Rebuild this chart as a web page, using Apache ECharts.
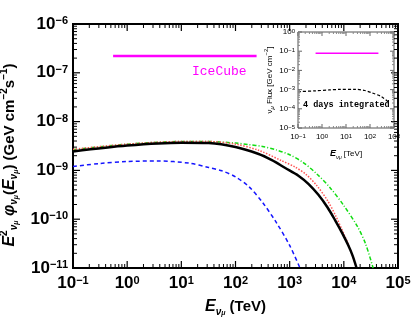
<!DOCTYPE html>
<html>
<head>
<meta charset="utf-8">
<script src="https://cdn.jsdelivr.net/npm/echarts@6/dist/echarts.min.js"></script>
<style>
html, body { margin: 0; padding: 0; background: #fff; }
#chart { width: 413px; height: 323px; }
</style>
</head>
<body>
<div id="chart"></div>
<script>
// main panel: E (TeV) vs E^2 phi (GeV cm^-2 s^-1)
var blackE = [0.1, 1, 10, 32, 100, 260, 470, 830, 1450, 2240, 3390, 5010, 6920, 9330, 12000, 14450, 17200];
var blackF = [2.45e-9, 3.24e-9, 3.7e-9, 3.63e-9, 3.02e-9, 2.19e-9, 1.62e-9, 1.12e-9, 7.8e-10, 5.25e-10, 3.16e-10, 1.74e-10, 9.5e-11, 5.2e-11, 2.95e-11, 1.82e-11, 1.0e-11];

var redE = [0.1, 1, 10, 32, 100, 270, 710, 1260, 2000, 3160, 5010, 7080, 10000, 13200, 17000];
var redF = [2.7e-9, 3.45e-9, 3.9e-9, 3.9e-9, 3.45e-9, 2.57e-9, 1.58e-9, 1.17e-9, 8.3e-10, 4.9e-10, 2.4e-10, 1.17e-10, 5.0e-11, 2.4e-11, 1.0e-11];

var greenE = [0.1, 1, 10, 32, 100, 174, 316, 562, 1000, 1780, 3160, 5620, 10000, 17800, 25100, 34700];
var greenF = [2.65e-9, 3.45e-9, 3.9e-9, 3.9e-9, 3.63e-9, 3.39e-9, 3.09e-9, 2.63e-9, 2.09e-9, 1.45e-9, 8.5e-10, 4.37e-10, 1.9e-10, 7.1e-11, 3.16e-11, 1.0e-11];

var blueE = [0.1, 0.3, 1, 3.8, 13.7, 32, 56, 100, 178, 316, 562, 1000, 1550];
var blueF = [1.2e-9, 1.38e-9, 1.52e-9, 1.56e-9, 1.41e-9, 1.15e-9, 9.8e-10, 7.4e-10, 4.6e-10, 2.2e-10, 8.7e-11, 2.9e-11, 1.0e-11];

var iceCubeE = [0.55, 245];
var iceCubeF = [2.2e-7, 2.2e-7];

// inset: 4 days integrated flux
var insetE = [0.1, 0.5, 2, 5, 25, 60, 117, 300, 570];
var insetF = [7.8e-4, 8.6e-4, 9.6e-4, 1.02e-3, 1.04e-3, 9.0e-4, 6.9e-4, 4.3e-4, 2.3e-4];
var insetIceE = [0.54, 224];
var insetIceF = [0.078, 0.078];

var xTicks = [0.1, 1, 10, 100, 1000, 10000, 100000];
var yTicks = [1e-11, 1e-10, 1e-9, 1e-8, 1e-7, 1e-6];
var insetXTicks = [0.1, 1, 10, 100, 1000];
var insetYTicks = [1e-5, 1e-4, 1e-3, 1e-2, 1e-1, 1];

var FONT = 'Liberation Sans';

function pairs(xs, ys) {
    var out = [];
    for (var i = 0; i < xs.length; i++) out.push([xs[i], ys[i]]);
    return out;
}

// 2..9 in every decade
function minorsOf(majors) {
    var m = [];
    for (var i = 0; i < majors.length - 1; i++) {
        for (var k = 2; k <= 9; k++) m.push(k * majors[i]);
    }
    return m;
}

function powLabel(v) {
    var e = Math.round(Math.log10(v));
    return '{b|10}{s|' + (e < 0 ? '\u2212' : '') + Math.abs(e) + '}';
}

function $ext(a, b) {
    var r = {}, k;
    for (k in a) r[k] = a[k];
    for (k in b) r[k] = b[k];
    return r;
}

function logAxis(dim, grid, majors, o) {
    return {
        type: 'log', logBase: 10, gridIndex: grid,
        min: majors[0], max: majors[majors.length - 1], interval: 1,
        position: dim == 'x' ? 'bottom' : 'left',
        splitLine: { show: false }, minorTick: { show: false },
        axisLine: { show: false, onZero: false },
        axisTick: { show: false },
        axisLabel: {
            show: true, margin: o.margin, formatter: powLabel,
            rich: {
                b: { fontFamily: FONT, fontWeight: o.weight, fontSize: o.size, lineHeight: o.size, color: '#000' },
                s: { fontFamily: FONT, fontWeight: o.weight, fontSize: o.sup, lineHeight: o.sup, verticalAlign: 'top', color: '#000' }
            }
        },
        name: o.name, nameLocation: 'middle', nameGap: o.nameGap, nameRotate: dim == 'y' ? 90 : 0,
        nameTextStyle: { rich: o.nameRich, padding: o.namePad || 0 }
    };
}

// inward ticks on both sides of a grid, placed with the axis scales
function tickSeries(dim, values, anchor, len, idx, color, width) {
    var data = [];
    for (var i = 0; i < values.length; i++) data.push(dim == 'x' ? [values[i], anchor] : [anchor, values[i]]);
    return {
        type: 'custom', xAxisIndex: idx, yAxisIndex: idx, clip: false, silent: true, z: 4,
        data: data,
        renderItem: function (params, api) {
            var cs = params.coordSys;
            var p = api.coord([api.value(0), api.value(1)]);
            var segs;
            if (dim == 'x') {
                var b = cs.y + cs.height;
                segs = [[p[0], b, p[0], b - len], [p[0], cs.y, p[0], cs.y + len]];
            } else {
                var r = cs.x + cs.width;
                segs = [[cs.x, p[1], cs.x + len, p[1]], [r, p[1], r - len, p[1]]];
            }
            return {
                type: 'group',
                children: segs.map(function (s) {
                    return { type: 'line', shape: { x1: s[0], y1: s[1], x2: s[2], y2: s[3] }, style: { stroke: color, lineWidth: width } };
                })
            };
        }
    };
}

var mainRich = {
    i: { fontFamily: FONT, fontWeight: 'bold', fontStyle: 'italic', fontSize: 16, lineHeight: 20, color: '#000' },
    t: { fontFamily: FONT, fontWeight: 'bold', fontSize: 15, lineHeight: 20, color: '#000' },
    sup: { fontFamily: FONT, fontWeight: 'bold', fontSize: 10, lineHeight: 12, verticalAlign: 'top', color: '#000' },
    sub: { fontFamily: FONT, fontWeight: 'bold', fontStyle: 'italic', fontSize: 10, lineHeight: 12, verticalAlign: 'bottom', color: '#000' },
    subsub: { fontFamily: FONT, fontWeight: 'bold', fontStyle: 'italic', fontSize: 7, lineHeight: 8, verticalAlign: 'bottom', color: '#000' }
};
var insetRich = {
    i: { fontFamily: FONT, fontWeight: 'bold', fontStyle: 'italic', fontSize: 9, lineHeight: 12, color: '#000' },
    t: { fontFamily: FONT, fontSize: 8, lineHeight: 12, color: '#000' },
    sup: { fontFamily: FONT, fontSize: 6, lineHeight: 7, verticalAlign: 'top', color: '#000' },
    sub: { fontFamily: FONT, fontStyle: 'italic', fontSize: 6, lineHeight: 7, verticalAlign: 'bottom', color: '#000' },
    subsub: { fontFamily: FONT, fontStyle: 'italic', fontSize: 5, lineHeight: 5, verticalAlign: 'bottom', color: '#000' }
};

var mainStyle = { size: 17, sup: 11, weight: 'bold', nameRich: mainRich };
var insetStyle = { size: 8, sup: 6, weight: 'normal', nameRich: insetRich };

var xAxes = [
    logAxis('x', 0, xTicks, $ext(mainStyle, { margin: 7, nameGap: 29, name: '{i|E}{sub|\u03bd}{subsub|\u03bc}{t| (TeV)}' })),
    logAxis('x', 1, insetXTicks, $ext(insetStyle, { margin: 5, nameGap: 20, name: '{i|E}{sub|\u03bd}{subsub|\u03bc}{t| [TeV]}' }))
];
var yAxes = [
    logAxis('y', 0, yTicks, $ext(mainStyle, { margin: 5, nameGap: 50, namePad: [0, 18, 0, 0],
        name: '{i|E}{sup|2}{sub|\u03bd}{subsub|\u03bc}{i| \u03c6}{sub|\u03bd}{subsub|\u03bc}{t|(}{i|E}{sub|\u03bd}{subsub|\u03bc}{t|) (GeV cm}{sup|\u22122}{t|s}{sup|\u22121}{t|)}' })),
    logAxis('y', 1, insetYTicks, $ext(insetStyle, { margin: 3, nameGap: 22,
        name: '{t|\u03bd}{sub|\u03bc}{t| Flux [GeV cm}{sup|\u22122}{t|]}' }))
];

function line(name, xs, ys, color, width, type, idx) {
    return {
        name: name, type: 'line', xAxisIndex: idx, yAxisIndex: idx,
        data: pairs(xs, ys), showSymbol: false, smooth: 0.3, silent: true,
        lineStyle: { color: color, width: width, type: type }
    };
}

var chart = echarts.init(document.getElementById('chart'), null, { renderer: 'canvas' });
chart.setOption({
    animation: false,
    backgroundColor: '#fff',
    grid: [
        { left: 73, top: 24, right: 15, bottom: 55, outerBoundsMode: 'none', show: true, backgroundColor: 'transparent', borderColor: '#000', borderWidth: 2 },
        { left: 298, top: 32, width: 96, height: 96, outerBoundsMode: 'none', show: true, backgroundColor: '#fff', borderColor: '#555', borderWidth: 1 }
    ],
    xAxis: xAxes,
    yAxis: yAxes,
    series: [
        line('blue', blueE, blueF, '#1515ff', 1.5, [4, 3], 0),
        line('green', greenE, greenF, '#11dd11', 1.5, [4, 2, 1, 2], 0),
        line('red', redE, redF, '#ff5555', 1.5, [1.5, 1.5], 0),
        line('black', blackE, blackF, '#000', 2.5, 'solid', 0),
        line('IceCube', iceCubeE, iceCubeF, '#ff00ff', 2.5, 'solid', 0),
        line('inset', insetE, insetF, '#000', 1.2, [3, 2], 1),
        line('insetIce', insetIceE, insetIceF, '#ff00ff', 1.5, 'solid', 1),
        tickSeries('x', xTicks, yTicks[0], 7, 0, '#000', 1.2),
        tickSeries('x', minorsOf(xTicks), yTicks[0], 4, 0, '#000', 1),
        tickSeries('y', yTicks, xTicks[0], 7, 0, '#000', 1.2),
        tickSeries('y', minorsOf(yTicks), xTicks[0], 4, 0, '#000', 1),
        tickSeries('x', insetXTicks, insetYTicks[0], 4, 1, '#666', 1),
        tickSeries('x', minorsOf(insetXTicks), insetYTicks[0], 2, 1, '#888', 1),
        tickSeries('y', insetYTicks, insetXTicks[0], 4, 1, '#666', 1),
        tickSeries('y', minorsOf(insetYTicks), insetXTicks[0], 2, 1, '#888', 1)
    ],
    graphic: [
        { type: 'text', left: 192, top: 65, style: { text: 'IceCube', font: '13px "Liberation Mono"', fill: '#ff00ff' } },
        { type: 'text', left: 303, top: 100, z: 10, style: { text: '4 days integrated', font: 'bold 8.5px "Liberation Mono"', fill: '#000' } }
    ]
});
</script>
</body>
</html>
